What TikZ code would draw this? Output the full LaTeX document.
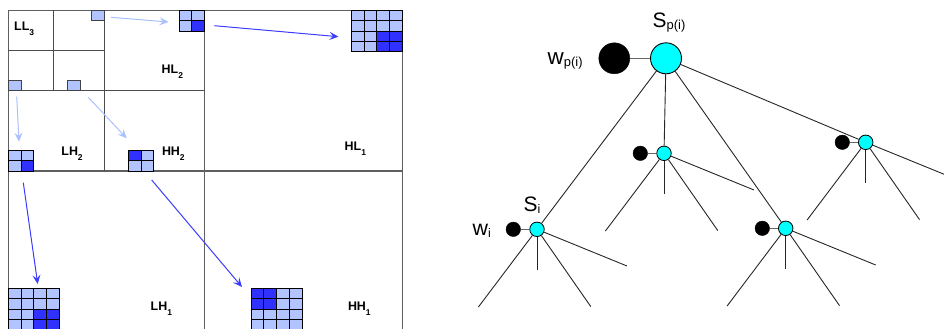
\documentclass[tikz,border=0pt]{standalone}
\usepackage{fontspec}
\setmainfont{Liberation Sans}
\usetikzlibrary{arrows.meta,calc}
\definecolor{lb}{RGB}{178,196,255}
\definecolor{db}{RGB}{48,48,255}
\definecolor{la}{RGB}{170,192,255}
\definecolor{da}{RGB}{60,60,255}
\definecolor{fr}{RGB}{95,95,95}
\definecolor{cy}{RGB}{0,255,255}
\newcommand\mgrid[7]{%
  \foreach \i in {1,...,#3} \foreach \j in {1,...,#3}
    \path[lcell] ({#1+(\i-1)*12.75},{#2+(\j-1)*10.35}) rectangle ++(12.75,10.35);
  \foreach \i in {#4,...,#5} \foreach \j in {#6,...,#7}
    \path[dcell] ({#1+(\i-1)*12.75},{#2+(\j-1)*10.35}) rectangle ++(12.75,10.35);
}
\newcommand\blab[2]{\fontsize{12.5}{12.5}\selectfont\bfseries #1\raisebox{-5bp}{\fontsize{8.5}{8.5}\selectfont #2}}
\begin{document}
\begin{tikzpicture}[x=1bp,y=-1bp,
  frame/.style={draw=fr,line width=1.3bp},
  inner/.style={draw=fr!80!black,line width=1bp},
  lcell/.style={fill=lb,draw=black,line width=0.8bp},
  dcell/.style={fill=db,draw=black,line width=0.8bp},
  sq/.style={fill=lb,draw=fr!70!black,line width=0.9bp},
  larrow/.style={draw=la,line width=1bp,-{Stealth[length=9bp,width=8bp,inset=3.5bp]}},
  darrow/.style={draw=da,line width=1bp,-{Stealth[length=9bp,width=8bp,inset=3.5bp]}},
  lab/.style={inner sep=0pt,anchor=base west},
  bigc/.style={circle,draw=black,line width=0.9bp,fill=cy,minimum size=31bp,inner sep=0pt},
  bigb/.style={circle,draw=black,fill=black,minimum size=31bp,inner sep=0pt},
  smc/.style={circle,draw=black,line width=0.8bp,fill=cy,minimum size=14.5bp,inner sep=0pt},
  smb/.style={circle,draw=black,fill=black,minimum size=14.5bp,inner sep=0pt},
  edge/.style={draw=black!85,line width=0.9bp},
  wedge/.style={draw=black!60,line width=1.1bp}]
\clip (0,0) rectangle (944,328);
% ---------- left panel: subband frame ----------
\path[frame] (8.3,340) -- (8.3,10.3) -- (402.3,10.3) -- (402.3,340);
\path[frame] (204.5,10.3) -- (204.5,340);
\path[frame] (8.3,171) -- (402.3,171);
\path[inner] (104.3,10.3) -- (104.3,171);
\path[inner] (8.3,90.7) -- (204.5,90.7);
\path[inner] (53.3,10.3) -- (53.3,90.7);
\path[inner] (8.3,50) -- (104.3,50);
% small squares
\path[sq] (91.7,10.3) rectangle ++(12.6,10.4);
\path[sq] (8.3,80.3) rectangle ++(13.2,10.4);
\path[sq] (67,80.3) rectangle ++(13,10.4);
% grids
\mgrid{179.0}{10.3}{2}{2}{2}{2}{2}
\mgrid{351.3}{10.3}{4}{3}{4}{3}{4}
\mgrid{8.3}{150.3}{2}{2}{2}{2}{2}
\mgrid{128.3}{150.3}{2}{1}{1}{1}{1}
\mgrid{8.3}{288.3}{4}{3}{4}{3}{4}
\mgrid{251.0}{288.3}{4}{1}{2}{1}{2}
% labels
\node[lab] (ll3) at (14,30) {\blab{LL}{3}};
\node[lab] (hl2) at (161.5,73.3) {\blab{HL}{2}};
\node[lab] (lh2) at (61.2,155) {\blab{LH}{2}};
\node[lab] (hh2) at (161.8,155) {\blab{HH}{2}};
\node[lab] (hl1) at (344.5,150) {\blab{HL}{1}};
\node[lab] (lh1) at (150.5,310) {\blab{LH}{1}};
\node[lab] (hh1) at (347.8,310) {\blab{HH}{1}};
% arrows
\coordinate (a1s) at (111,17.3);   \coordinate (a1e) at (168.5,22);
\coordinate (a2s) at (16.7,96.7);  \coordinate (a2e) at (19,141.7);
\coordinate (a3s) at (88.3,97.3);  \coordinate (a3e) at (126.7,138.3);
\coordinate (a4s) at (214.3,25.7); \coordinate (a4e) at (338.5,36.7);
\coordinate (a5s) at (23.3,182.7); \coordinate (a5e) at (37.7,284);
\coordinate (a6s) at (151.7,180);  \coordinate (a6e) at (242,287);
\path[larrow] (a1s) -- (a1e);
\path[larrow] (a2s) -- (a2e);
\path[larrow] (a3s) -- (a3e);
\path[darrow] (a4s) -- (a4e);
\path[darrow] (a5s) -- (a5e);
\path[darrow] (a6s) -- (a6e);
% ---------- right panel: tree ----------
\node[bigc] (sp) at (666,58.3) {};
\node[bigb] (wp) at (614.3,58.3) {};
\node[smc] (mid) at (664,153.3) {};
\node[smb] (midw) at (640.3,153.3) {};
\node[smc] (si) at (537,229.3) {};
\node[smb] (siw) at (513.3,229.3) {};
\node[smc] (rt) at (865.7,142.3) {};
\node[smb] (rtw) at (842.3,142.3) {};
\node[smc] (lr) at (785.7,228.3) {};
\node[smb] (lrw) at (762.3,228.3) {};
\path[wedge] (wp) -- (sp);
\foreach \n in {mid,si,rt,lr} \path[wedge] (\n w) -- (\n);
\path[edge] (sp) -- (si);
\path[edge] (sp) -- (mid);
\path[edge] (sp) -- (lr);
\path[edge] (sp) -- (rt);
\foreach \n in {mid,si,rt,lr} {
  \coordinate (\n-c1) at ($(\n)+(-58.6,77.7)$);
  \coordinate (\n-c2) at ($(\n)+(0,41)$);
  \coordinate (\n-c3) at ($(\n)+(53.8,77.3)$);
  \coordinate (\n-c4) at ($(\n)+(90,36.7)$);
  \path[edge] (\n) -- (\n-c1);
  \path[edge] (\n) -- (\n-c2);
  \path[edge] (\n) -- (\n-c3);
  \path[edge] (\n) -- (\n-c4);
}
\node[lab] (tsp) at (652.5,27.5) {\fontsize{21}{21}\selectfont S\raisebox{-2bp}{\fontsize{13}{13}\selectfont p(i)}};
\node[lab] (twp) at (547.5,64.5) {\fontsize{22.5}{22.5}\selectfont w\raisebox{-2bp}{\fontsize{13}{13}\selectfont p(i)}};
\node[lab] (tsi) at (523.5,211) {\fontsize{21}{21}\selectfont S\raisebox{-2bp}{\fontsize{12.5}{12.5}\selectfont i}};
\node[lab] (twi) at (472.5,235) {\fontsize{21.5}{21.5}\selectfont w\raisebox{-2bp}{\fontsize{12.5}{12.5}\selectfont i}};
\end{tikzpicture}
\end{document}
